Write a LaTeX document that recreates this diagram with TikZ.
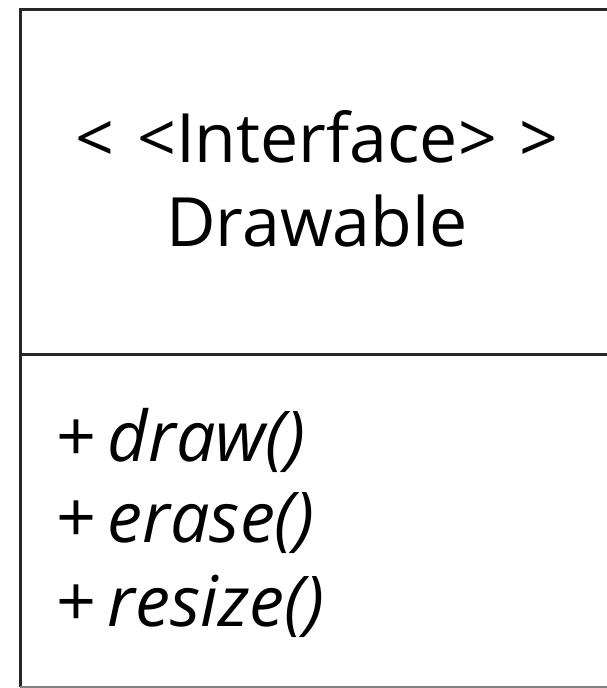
\documentclass[tikz,border=0pt]{standalone}
\usepackage{fontspec}
\setmainfont{Open Sans}
\begin{document}
\begin{tikzpicture}[x=1pt,y=1pt,
  title/.style={anchor=base,inner sep=0pt,font=\fontsize{68}{76}\selectfont},
  method/.style={anchor=base west,inner sep=0pt,font=\fontsize{70}{78}\selectfont},
  border/.style={line width=3pt,black!85}]
\useasboundingbox (0,0) rectangle (607,688);
\clip (0,0) rectangle (607,688);
\fill[white] (0,0) rectangle (607,688);
\coordinate (tl) at (20,678);
\coordinate (tr) at (630,678);
\coordinate (ml) at (20,333);
\coordinate (mr) at (630,333);
\coordinate (bl) at (20,1);
\coordinate (br) at (630,1);
\draw[border] (tr) -- (tl) -- (bl);
\draw[border] (ml) -- (mr);
\draw[line width=1.5pt,black!50] (bl) -- (br);
\node[title] (st) at (317,525) {<\,\,<Interface>\,\,>};
\node[title] (nm) at (317,441) {Drawable};
\node[method] (m1) at (56,226) {+\,\textit{draw()}};
\node[method] (m2) at (56,145) {+\,\textit{erase()}};
\node[method] (m3) at (56,61) {+\,\textit{resize()}};
\end{tikzpicture}
\end{document}
